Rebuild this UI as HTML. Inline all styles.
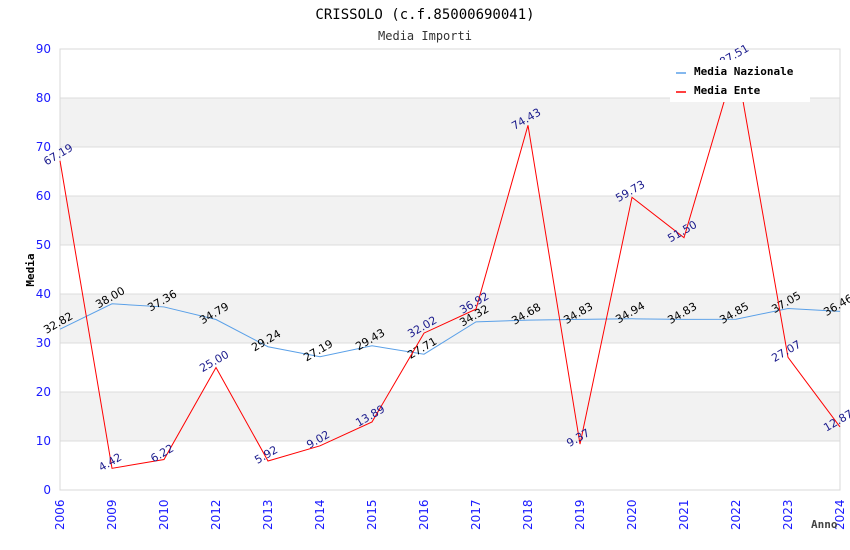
<!DOCTYPE html>
<html><head><meta charset="utf-8"><style>
body{margin:0;background:#fff;}
svg{display:block;}
.mono{font-family:"DejaVu Sans Mono","Liberation Mono",monospace;}
.sans{font-family:"DejaVu Sans","Liberation Sans",sans-serif;}
</style></head><body>
<svg id="chart" width="850" height="550" xmlns="http://www.w3.org/2000/svg">
<text class="mono" x="425" y="19" text-anchor="middle" font-size="14" fill="#000">CRISSOLO (c.f.85000690041)</text>
<text class="mono" x="425" y="40" text-anchor="middle" font-size="12" fill="#333">Media Importi</text>
<g id="grid"></g>
<g id="axes"></g>
<g id="series"></g>
<text class="mono" x="34" y="270" transform="rotate(-90 34 270)" text-anchor="middle" font-size="11" font-weight="bold" fill="#000">Media</text>
<text class="mono" x="811" y="528" font-size="11" font-weight="bold" fill="#444">Anno</text>
<g>
<rect x="670" y="60" width="140" height="42" fill="#fff"/>
<line x1="676" y1="73" x2="686" y2="73" stroke="#5aa0e8" stroke-width="1.5"/>
<text class="mono" x="694" y="75" font-size="11" font-weight="bold" fill="#000">Media Nazionale</text>
<line x1="676" y1="92" x2="686" y2="92" stroke="#f00" stroke-width="1.5"/>
<text class="mono" x="694" y="94" font-size="11" font-weight="bold" fill="#000">Media Ente</text>
</g>
</svg>
<script>
const categories=["2006","2009","2010","2012","2013","2014","2015","2016","2017","2018","2019","2020","2021","2022","2023","2024"];
const nazionale=[32.82,38.00,37.36,34.79,29.24,27.19,29.43,27.71,34.32,34.68,34.83,34.94,34.83,34.85,37.05,36.46];
const ente=[67.19,4.42,6.22,25.00,5.92,9.02,13.89,32.02,36.92,74.43,9.37,59.73,51.50,87.51,27.07,12.87];
const yTicks=[0,10,20,30,40,50,60,70,80,90];
const X0=60,X1=840,Y0=490,Y1=49,YMAX=90;
const ns="http://www.w3.org/2000/svg";
function xs(i){return X0+i*(X1-X0)/(categories.length-1);}
function ys(v){return Y0-(v/YMAX)*(Y0-Y1);}
function mk(tag,attrs,parent){const e=document.createElementNS(ns,tag);for(const k in attrs)e.setAttribute(k,attrs[k]);parent.appendChild(e);return e;}
const grid=document.getElementById('grid'),axes=document.getElementById('axes'),ser=document.getElementById('series');
for(let i=0;i<yTicks.length-1;i++){
  if(i%2===1){const r=mk('rect',{x:X0,y:ys(yTicks[i+1]),width:X1-X0,height:ys(yTicks[i])-ys(yTicks[i+1]),fill:'#f2f2f2'},grid);
  
  }
}
yTicks.forEach(t=>{
  const l=mk('line',{x1:X0,x2:X1,y1:ys(t),y2:ys(t),stroke:'#dcdcdc'},grid);
  
  
  const tx=mk('text',{x:51,y:ys(t)+4,'text-anchor':'end','font-size':12,fill:'#1a1aff',class:'sans'},axes);
  tx.textContent=t;
  
  
});
const fr=mk('rect',{x:X0,y:Y1,width:X1-X0,height:Y0-Y1,fill:'none',stroke:'#d8d8d8'},axes);


categories.forEach((c,i)=>{
  const x=xs(i)+4,y=530;
  const t=mk('text',{x:x,y:y,transform:`rotate(-90 ${x} ${y})`,'font-size':12,fill:'#1a1aff',class:'sans'},axes);
  t.textContent=c;
  
  
});
function drawSeries(vals,color,labelColor,name){
  const pts=vals.map((v,i)=>xs(i)+','+ys(v)).join(' ');
  const p=mk('polyline',{points:pts,fill:'none',stroke:color,'stroke-width':1},ser);
  
  
  vals.forEach((v,i)=>{
    const x=xs(i),y=ys(v)-3;
    const t=mk('text',{x:x,y:y,'text-anchor':'middle','font-size':11,fill:labelColor,transform:`rotate(-30 ${x} ${y})`,class:'sans'},ser);
    t.textContent=v.toFixed(2);
    
    
  });
}
drawSeries(nazionale,'#5aa0e8','#000','nazionale');
drawSeries(ente,'#f00','#1a1a8c','ente');
</script>
</body></html>
